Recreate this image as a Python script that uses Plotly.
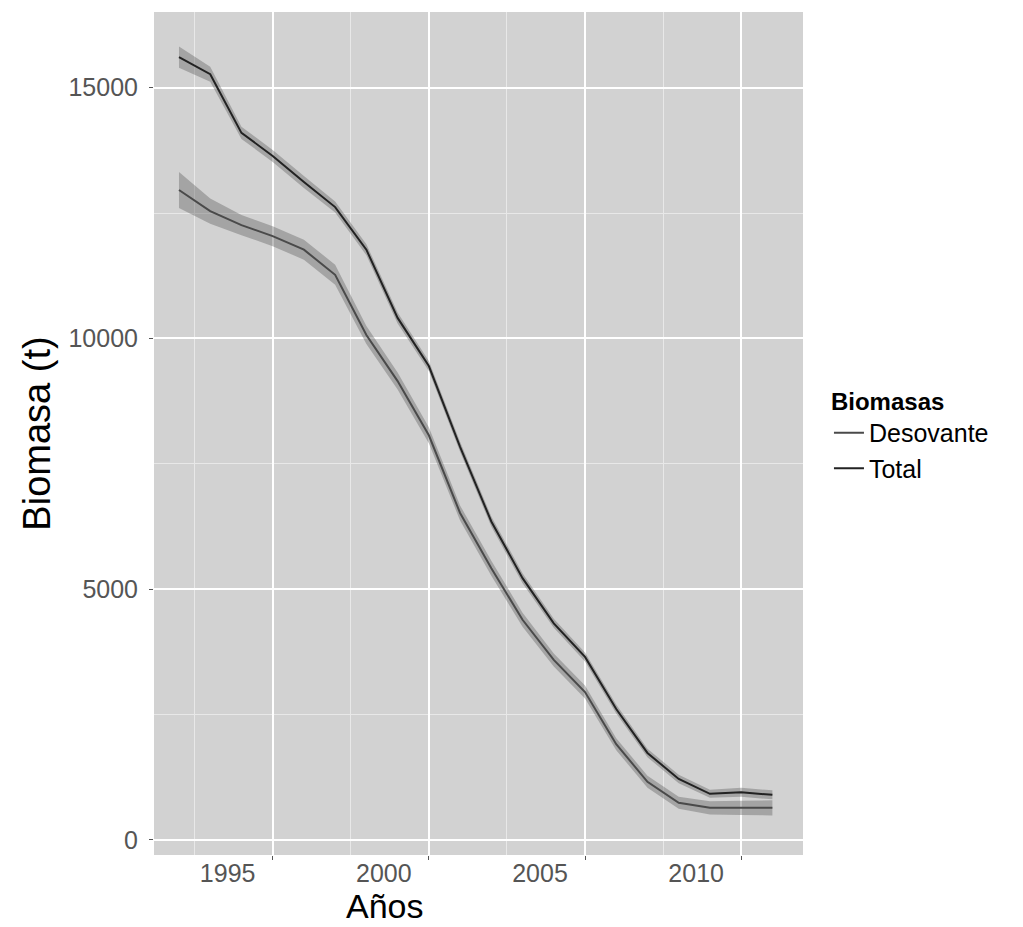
import plotly.graph_objects as go

years = list(range(1992, 2012))
total = [15610, 15270, 14100, 13640, 13120, 12620, 11770, 10410, 9450, 7840,
         6350, 5220, 4320, 3650, 2610, 1735, 1215, 920, 950, 900]
total_lo = [15400, 15120, 13980, 13520, 13000, 12510, 11660, 10300, 9350, 7740,
            6250, 5120, 4230, 3560, 2520, 1650, 1130, 840, 860, 810]
total_hi = [15820, 15420, 14220, 13760, 13240, 12730, 11880, 10520, 9550, 7940,
            6450, 5320, 4410, 3740, 2700, 1820, 1300, 1000, 1040, 990]
deso = [12960, 12540, 12260, 12040, 11770, 11270, 10070, 9150, 8070, 6520,
        5420, 4390, 3590, 2950, 1910, 1160, 740, 640, 640, 640]
deso_lo = [12600, 12290, 12060, 11840, 11570, 11070, 9890, 8980, 7910, 6370,
           5270, 4250, 3460, 2820, 1790, 1040, 620, 510, 500, 490]
deso_hi = [13320, 12790, 12460, 12240, 11970, 11470, 10250, 9320, 8230, 6670,
           5570, 4530, 3720, 3080, 2030, 1280, 860, 770, 780, 790]

xticks = [1995, 2000, 2005, 2010]
xticklabels = ["1995", "2000", "2005", "2010"]
yticks = [0, 5000, 10000, 15000]
yticklabels = ["0", "5000", "10000", "15000"]

band = "rgba(95,95,95,0.40)"
fig = go.Figure()

def ribbon(lo, hi, group):
    fig.add_trace(go.Scatter(x=years, y=lo, mode="lines", line=dict(width=0),
                             showlegend=False, hoverinfo="skip", legendgroup=group))
    fig.add_trace(go.Scatter(x=years, y=hi, mode="lines", line=dict(width=0),
                             fill="tonexty", fillcolor=band,
                             showlegend=False, hoverinfo="skip", legendgroup=group))

ribbon(deso_lo, deso_hi, "d")
fig.add_trace(go.Scatter(x=years, y=deso, mode="lines", name="Desovante",
                         line=dict(color="#4a4a4a", width=2), legendgroup="d"))
ribbon(total_lo, total_hi, "t")
fig.add_trace(go.Scatter(x=years, y=total, mode="lines", name="Total",
                         line=dict(color="#222222", width=2), legendgroup="t"))

fig.update_layout(
    width=1023, height=927,
    margin=dict(l=154, r=220, t=12, b=72),
    paper_bgcolor="white",
    plot_bgcolor="#d2d2d2",
    font=dict(family="Liberation Sans, Arial, sans-serif", color="#000"),
    xaxis=dict(range=[1991.2, 2011.98], tickvals=xticks, ticktext=xticklabels,
               showgrid=True, gridcolor="white", gridwidth=1.5,
               minor=dict(dtick=2.5, tick0=1992.5, showgrid=True, gridcolor="#e8e8e8", gridwidth=0.8),
               ticks="outside", ticklen=4, tickcolor="#555",
               tickfont=dict(size=25, color="#555"), ticklabelshift=-45,
               ticklabelstandoff=-8,
               zeroline=False, showline=False),
    yaxis=dict(range=[-300, 16510], tickvals=yticks, ticktext=yticklabels,
               showgrid=True, gridcolor="white", gridwidth=1.5,
               minor=dict(dtick=2500, showgrid=True, gridcolor="#e8e8e8", gridwidth=0.8),
               ticks="outside", ticklen=4, tickcolor="#555",
               tickfont=dict(size=25, color="#555"), ticklabelstandoff=6,
               title=dict(text="Biomasa (t)", font=dict(size=38), standoff=6),
               zeroline=False, showline=False),
    legend=dict(x=1.04, y=0.565, xanchor="left", yanchor="top",
                title=dict(text="<b>Biomasas</b>", font=dict(size=24)),
                font=dict(size=25), bgcolor="rgba(0,0,0,0)",
                tracegroupgap=0, itemwidth=30),
    annotations=[dict(text="Años", xref="paper", yref="paper", x=0.356, y=-0.061,
                      xanchor="center", yanchor="middle", showarrow=False,
                      font=dict(size=34))],
)

fig.write_html("out.html")
